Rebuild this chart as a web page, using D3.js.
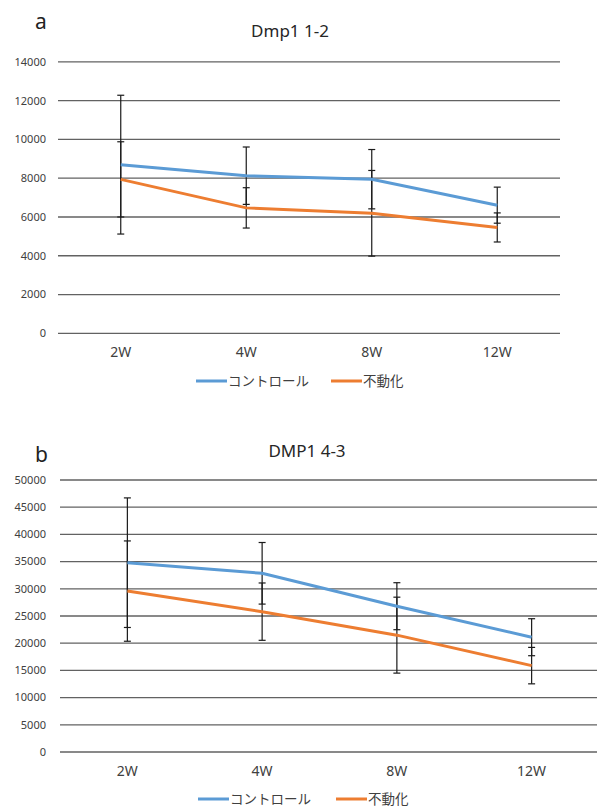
<!DOCTYPE html>
<html lang="ja">
<head>
<meta charset="utf-8">
<title>Dmp1 / DMP1</title>
<style>
  body { margin: 0; background: #fff; }
  svg { display: block; font-family: "Noto Sans", "Noto Sans CJK JP", sans-serif; }
  .grid line { stroke: #626262; stroke-width: 1.3px; }
  .ytick { font-size: 11px; fill: #404040; }
  .xtick { font-size: 14px; fill: #404040; }
  .title { font-size: 17px; fill: #262626; }
  .panel { font-size: 21px; fill: #222; }
  .legend text { font-size: 13.5px; fill: #404040; font-family: "Noto Sans CJK JP", sans-serif; }
  .err { stroke: #1a1a1a; stroke-width: 1.2px; }
</style>
</head>
<body>
<script src="https://cdn.jsdelivr.net/npm/d3@7"></script>
<script>
// weeks on the x axis
const weeks = ["2W", "4W", "8W", "12W"];
const seriesNames = ["コントロール", "不動化"];
const colors = ["#5b9bd5", "#ed7d31"];

// panel a : Dmp1 1-2
const aControl = [8700, 8130, 7950, 6610];
const aControlSd = [3580, 1480, 1530, 930];
const aImmob = [7940, 6470, 6190, 5460];
const aImmobSd = [1940, 1040, 2210, 750];
const aTicks = [0, 2000, 4000, 6000, 8000, 10000, 12000, 14000];

// panel b : DMP1 4-3
const bControl = [34800, 32850, 26800, 21100];
const bControlSd = [11910, 5660, 4320, 3400];
const bImmob = [29580, 25800, 21480, 15880];
const bImmobSd = [9220, 5270, 6980, 3350];
const bTicks = [0, 5000, 10000, 15000, 20000, 25000, 30000, 35000, 40000, 45000, 50000];

const svg = d3.select("body").append("svg")
    .attr("width", 597)
    .attr("height", 807);

function drawPanel(p) {
    const g = svg.append("g");

    const x = d3.scaleBand().domain(weeks).range([p.left, p.right]);
    const y = d3.scaleLinear().domain([0, d3.max(p.ticks)]).range([p.bottom, p.top]);

    // gridlines
    g.append("g").attr("class", "grid")
        .selectAll("line").data(p.ticks).join("line")
            .attr("x1", p.left).attr("x2", p.right)
            .attr("y1", d => y(d)).attr("y2", d => y(d));

    // y tick labels
    g.selectAll(".ytick").data(p.ticks).join("text")
        .attr("class", "ytick")
        .attr("x", 46)
        .attr("y", d => y(d))
        .attr("dy", "0.35em")
        .attr("text-anchor", "end")
        .text(d => d);

    // x labels
    g.selectAll(".xtick").data(weeks).join("text")
        .attr("class", "xtick")
        .attr("x", d => x(d) + x.bandwidth() / 2)
        .attr("y", p.bottom + 24)
        .attr("text-anchor", "middle")
        .text(d => d);

    g.append("text").attr("class", "title")
        .attr("x", p.titleX).attr("y", p.titleY)
        .attr("text-anchor", "middle")
        .text(p.title);

    g.append("text").attr("class", "panel")
        .attr("x", 35).attr("y", p.labelY)
        .text(p.label);

    const cx = w => x(w) + x.bandwidth() / 2;

    // error bars
    p.series.forEach(s => {
        const eb = g.append("g");
        weeks.forEach((w, i) => {
            const hi = y(s.values[i] + s.sd[i]), lo = y(s.values[i] - s.sd[i]);
            eb.append("line").attr("class", "err")
                .attr("x1", cx(w)).attr("x2", cx(w)).attr("y1", hi).attr("y2", lo);
            [hi, lo].forEach(v => eb.append("line").attr("class", "err")
                .attr("x1", cx(w) - 3.5).attr("x2", cx(w) + 3.5).attr("y1", v).attr("y2", v));
        });
    });

    // lines
    const line = d3.line().x((d, i) => cx(weeks[i])).y(d => y(d));
    p.series.forEach((s, k) => {
        g.append("path")
            .attr("d", line(s.values))
            .attr("fill", "none")
            .attr("stroke", colors[k])
            .attr("stroke-width", 3);
    });

    // legend
    const lg = g.append("g").attr("class", "legend");
    seriesNames.forEach((n, k) => {
        const lx = p.legendX[k];
        lg.append("line")
            .attr("x1", lx).attr("x2", lx + 31)
            .attr("y1", p.legendY).attr("y2", p.legendY)
            .attr("stroke", colors[k]).attr("stroke-width", 3);
        lg.append("text")
            .attr("x", lx + 32).attr("y", p.legendY)
            .attr("dy", "0.36em")
            .text(n);
    });
}

drawPanel({
    title: "Dmp1 1-2", label: "a", titleX: 290, titleY: 37, labelY: 29,
    left: 58, right: 560, top: 61.9, bottom: 333.3,
    ticks: aTicks,
    series: [
        { values: aControl, sd: aControlSd },
        { values: aImmob, sd: aImmobSd }
    ],
    legendY: 381, legendX: [196, 331]
});

drawPanel({
    title: "DMP1 4-3", label: "b", titleX: 307, titleY: 457, labelY: 462,
    left: 60, right: 599, top: 480, bottom: 752,
    ticks: bTicks,
    series: [
        { values: bControl, sd: bControlSd },
        { values: bImmob, sd: bImmobSd }
    ],
    legendY: 799, legendX: [198, 336]
});
</script>
</body>
</html>
